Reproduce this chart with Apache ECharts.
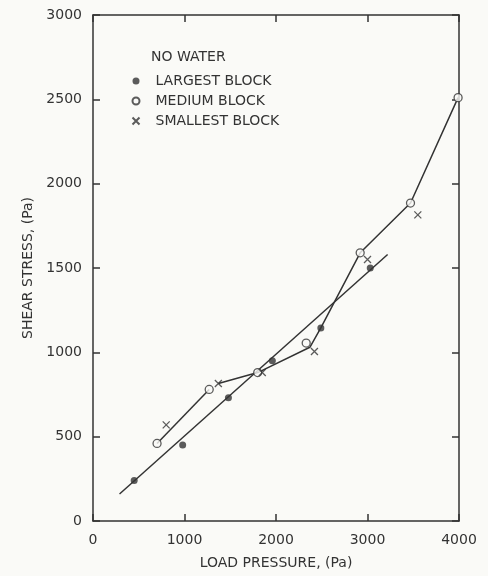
<!DOCTYPE html>
<html>
<head>
<meta charset="utf-8">
<script src="https://cdn.jsdelivr.net/npm/echarts@6/dist/echarts.min.js"></script>
<style>
  html, body { margin: 0; padding: 0; background: #fafaf7; }
  #chart { width: 488px; height: 576px; }
</style>
</head>
<body>
<div id="chart"></div>
<script>
// points: [load pressure, shear stress]
const largestBlock = [[450, 240], [980, 450], [1480, 730], [1960, 950], [2490, 1145], [3030, 1500]]
const mediumBlock = [[700, 460], [1270, 780], [1800, 880], [2330, 1055], [2920, 1590], [3470, 1885], [3990, 2510]]
const smallestBlock = [[800, 570], [1370, 815], [1850, 880], [2420, 1005], [3000, 1550], [3550, 1815]]

// drawn lines
const fitLine = [[290, 160], [3220, 1580]]
const curveLow = [[700, 460], [1270, 780]]
const curveHigh = [[1370, 815], [1800, 880], [2370, 1030], [2490, 1145], [2920, 1590], [3470, 1885], [3990, 2510]]

const xTicks = [0, 1000, 2000, 3000, 4000]
const yTicks = [0, 500, 1000, 1500, 2000, 2500, 3000]

const ink = '#333'
const font = 'DejaVu Sans'
const crossPath = 'path://M0,0L10,10M10,0L0,10'

const chart = echarts.init(document.getElementById('chart'))

function lineSeries(name, data) {
  return {
    name,
    type: 'line',
    data,
    symbol: 'none',
    silent: true,
    lineStyle: { color: ink, width: 1.5 },
    z: 2,
  }
}

// onZero must be off, otherwise the top/right copies sit on the zero line
function makeAxis(ticks, position, extra) {
  return {
    type: 'value',
    position,
    min: ticks[0],
    max: ticks[ticks.length - 1],
    interval: ticks[1] - ticks[0],
    axisLine: { show: true, onZero: false, lineStyle: { color: ink, width: 1.5 } },
    axisTick: { show: true, inside: true, length: 7, lineStyle: { color: ink, width: 1.5 } },
    splitLine: { show: false },
    axisLabel: { show: false },
    ...extra,
  }
}

const labelStyle = { show: true, color: ink, fontSize: 14, fontFamily: font, formatter: (v) => String(v) }

chart.setOption({
  backgroundColor: '#fafaf7',
  animation: false,
  textStyle: { fontFamily: font },
  grid: { left: 93, top: 15, right: 29, bottom: 55 },
  legend: {
    orient: 'vertical',
    left: 125,
    top: 69,
    itemGap: 6,
    itemWidth: 7,
    itemHeight: 7,
    data: ['LARGEST BLOCK', 'MEDIUM BLOCK', 'SMALLEST BLOCK'],
    textStyle: { color: ink, fontSize: 14, fontFamily: font, padding: [0, 0, 0, 11] },
  },
  graphic: [
    {
      type: 'text',
      left: 151,
      top: 50,
      style: { text: 'NO WATER', fill: ink, font: '14px "DejaVu Sans"' },
    },
  ],
  xAxis: [
    makeAxis(xTicks, 'bottom', {
      name: 'LOAD PRESSURE, (Pa)',
      nameLocation: 'middle',
      nameGap: 35,
      nameTextStyle: { color: ink, fontSize: 14, fontFamily: font },
      axisLabel: { ...labelStyle, margin: 12 },
    }),
    makeAxis(xTicks, 'top', {}),
  ],
  yAxis: [
    makeAxis(yTicks, 'left', {
      name: 'SHEAR STRESS, (Pa)',
      nameLocation: 'middle',
      nameRotate: 90,
      nameGap: 43,
      nameTextStyle: { color: ink, fontSize: 14, fontFamily: font },
      axisLabel: { ...labelStyle, margin: 11 },
    }),
    makeAxis(yTicks, 'right', {}),
  ],
  series: [
    lineSeries('fit', fitLine),
    lineSeries('low', curveLow),
    lineSeries('high', curveHigh),
    {
      name: 'LARGEST BLOCK',
      type: 'scatter',
      data: largestBlock,
      symbol: 'circle',
      symbolSize: 7,
      itemStyle: { color: ink },
      z: 3,
    },
    {
      name: 'MEDIUM BLOCK',
      type: 'scatter',
      data: mediumBlock,
      symbol: 'circle',
      symbolSize: 8,
      itemStyle: { color: '#fafaf7', borderColor: ink, borderWidth: 1.3 },
      z: 3,
    },
    {
      name: 'SMALLEST BLOCK',
      type: 'scatter',
      data: smallestBlock,
      symbol: crossPath,
      symbolSize: 7,
      itemStyle: { color: 'none', borderColor: ink, borderWidth: 1.3 },
      z: 3,
    },
  ],
})
</script>
</body>
</html>
